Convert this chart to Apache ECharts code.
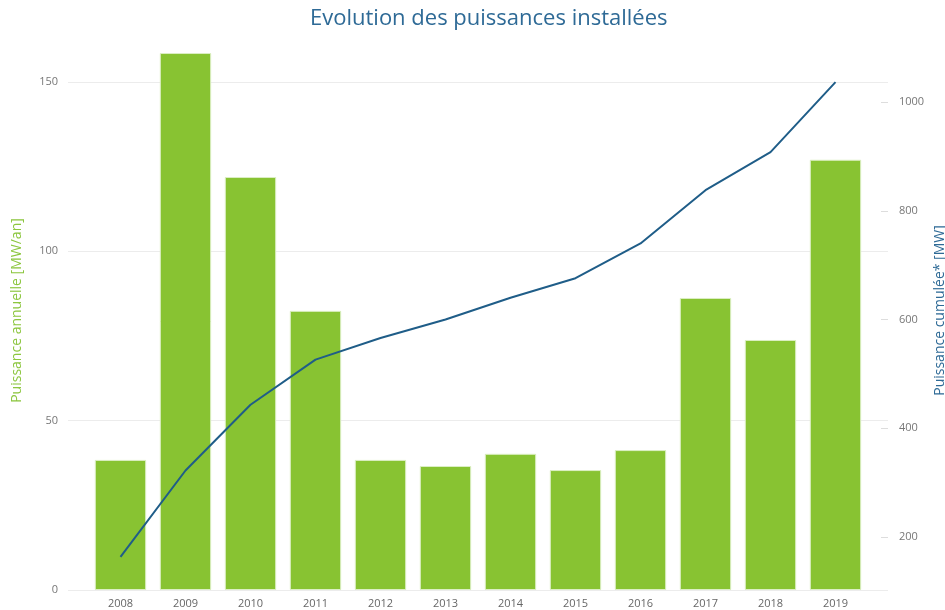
<!DOCTYPE html>
<html>
<head>
<meta charset="utf-8">
<script src="https://cdn.jsdelivr.net/npm/echarts@6/dist/echarts.min.js"></script>
<style>
  html, body { margin: 0; padding: 0; background: #fff; }
  #chart { width: 945px; height: 610px; }
</style>
</head>
<body>
<div id="chart"></div>
<script>
// données
const years = ['2008', '2009', '2010', '2011', '2012', '2013', '2014', '2015', '2016', '2017', '2018', '2019']
const annualPower = [38.4, 158.5, 121.9, 82.4, 38.4, 36.6, 40.2, 35.4, 41.3, 86.2, 73.8, 127]
const cumulPower = [163, 322, 443, 526, 566, 600, 640, 676, 740, 838, 908, 1037]
const leftTicks = [0, 50, 100, 150]
const rightTicks = [200, 400, 600, 800, 1000]

const leftMin = 0, leftMax = 165
const rightMin = 102, rightMax = 1131

const chart = echarts.init(document.getElementById('chart'), null, { renderer: 'canvas' })

const font = '"Open Sans", "Noto Sans", sans-serif'

chart.setOption({
  animation: false,
  textStyle: { fontFamily: font },
  title: {
    text: 'Evolution des puissances installées',
    left: 305,
    top: 3,
    textStyle: { color: '#2e6a96', fontSize: 22, fontWeight: 'normal', fontFamily: font }
  },
  grid: [
    // grille de fond (lignes + axes)
    { left: 68, right: 57, top: 31, bottom: 20, outerBoundsMode: 'none' },
    // grille des données
    { left: 88, right: 77, top: 31, bottom: 20, outerBoundsMode: 'none' }
  ],
  xAxis: [
    { gridIndex: 0, type: 'category', data: years, show: false },
    {
      gridIndex: 1,
      type: 'category',
      data: years,
      axisLine: { show: false },
      axisTick: { show: false },
      axisLabel: { color: '#666', fontSize: 11, margin: 8 }
    }
  ],
  yAxis: [
    {
      gridIndex: 0,
      type: 'value',
      min: leftMin,
      max: leftMax,
      interval: 50,
      name: 'Puissance annuelle [MW/an]',
      nameLocation: 'middle',
      nameGap: 44,
      nameTextStyle: { color: '#8cc63f', fontSize: 14 },
      axisLine: { show: false },
      axisTick: { show: false },
      axisLabel: { color: '#777', fontSize: 11, margin: 10, customValues: leftTicks },
      splitLine: { lineStyle: { color: '#ececec' }, showMaxLine: false }
    },
    {
      gridIndex: 0,
      type: 'value',
      position: 'right',
      min: rightMin,
      max: rightMax,
      name: 'Puissance cumulée* [MW]',
      nameLocation: 'middle',
      nameGap: 45,
      nameMoveOverlap: false,
      nameTextStyle: { color: '#2e6a96', fontSize: 14 },
      axisLine: { show: false },
      axisTick: { show: true, inside: true, length: 7, lineStyle: { color: '#ddd' }, customValues: rightTicks },
      axisLabel: { color: '#777', fontSize: 11, margin: 11, customValues: rightTicks, formatter: v => String(v) },
      splitLine: { show: false }
    },
    { gridIndex: 1, type: 'value', min: leftMin, max: leftMax, show: false, splitLine: { show: false } },
    { gridIndex: 1, type: 'value', min: rightMin, max: rightMax, show: false, splitLine: { show: false } }
  ],
  series: [
    {
      name: 'Puissance annuelle',
      type: 'bar',
      xAxisIndex: 1,
      yAxisIndex: 2,
      data: annualPower,
      barCategoryGap: '21%',
      itemStyle: { color: '#88c332', borderColor: '#dcefc4', borderWidth: 1 }
    },
    {
      name: 'Puissance cumulée',
      type: 'line',
      xAxisIndex: 1,
      yAxisIndex: 3,
      data: cumulPower,
      symbol: 'none',
      lineStyle: { color: '#1f5d88', width: 2 },
      z: 5
    }
  ]
})

window.addEventListener('resize', () => {
  chart.resize()
})
</script>
</body>
</html>
